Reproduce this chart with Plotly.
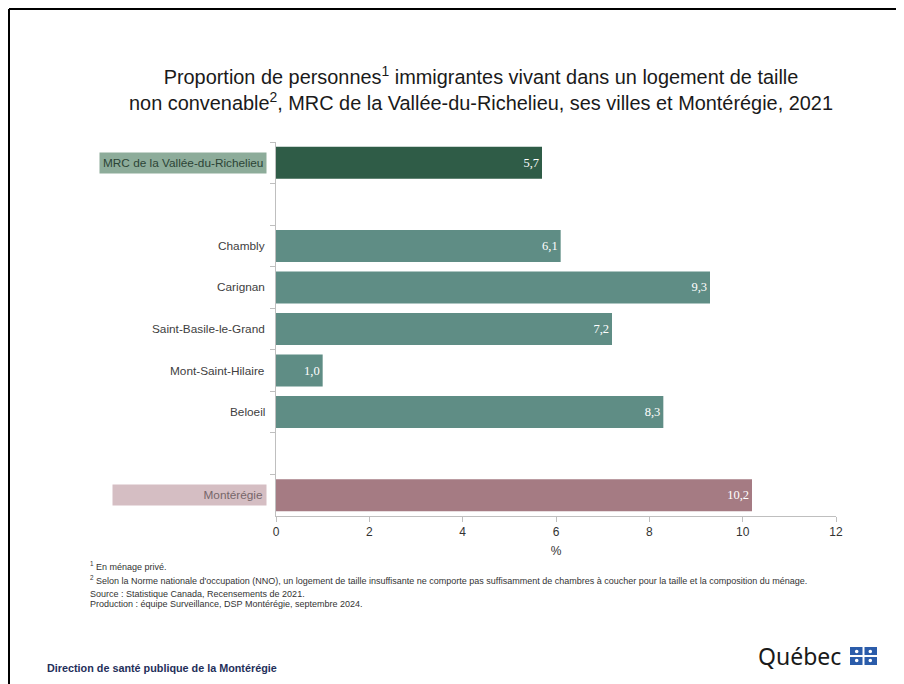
import plotly.graph_objects as go

categories = ["MRC de la Vallée-du-Richelieu", " ", "Chambly", "Carignan",
              "Saint-Basile-le-Grand", "Mont-Saint-Hilaire", "Beloeil", "  ", "Montérégie"]
values = [5.7, None, 6.1, 9.3, 7.2, 1.0, 8.3, None, 10.2]
groups = ["mrc", "blank", "ville", "ville", "ville", "ville", "ville", "blank", "region"]
x_ticks = [0, 2, 4, 6, 8, 10, 12]

bar_colors = {"mrc": "#2f5c47", "ville": "#5f8d85", "region": "#a57b83", "blank": "rgba(0,0,0,0)"}

W, H = 904, 684      # window
OFF = 8              # page body margin
FW, FH = W - OFF, H - OFF
L, R, T, B = 276, 836, 142, 516   # plot area in window pixels


def px(xp):
    return (xp - L) / (R - L)


def py(yp):
    return (B - yp) / (B - T)


texts = [("" if v is None else f"{v:.1f}".replace(".", ",")) for v in values]

fig = go.Figure()
fig.add_trace(go.Bar(
    y=categories, x=values, orientation="h",
    marker=dict(color=[bar_colors[g] for g in groups], line=dict(width=0)),
    width=0.77,
    text=texts, textposition="inside", insidetextanchor="end",
    textfont=dict(family="Liberation Serif", size=12.5, color="white"),
    cliponaxis=False, hoverinfo="skip",
))

lab_font = "Liberation Sans"
annotations = []
for cat, g in zip(categories, groups):
    if g == "blank":
        continue
    a = dict(x=px(267), y=cat, xref="paper", yref="y", xanchor="right", yanchor="middle",
             text=cat, showarrow=False,
             font=dict(family=lab_font, size=11.8, color="#404040"))
    if g == "mrc":
        a.update(bgcolor="#8dac9a", borderpad=3, font=dict(family=lab_font, size=11.8, color="#2c4436"))
    if g == "region":
        a.update(bgcolor="#d5bec3", borderpad=3, width=147, align="right",
                 font=dict(family=lab_font, size=11.8, color="#76666a"))
    annotations.append(a)

foot_font = dict(family="Liberation Sans", size=9, color="#333333")
footnotes = [
    (566, "<sup>1</sup> En ménage privé."),
    (580, "<sup>2</sup> Selon la Norme nationale d'occupation (NNO), un logement de taille insuffisante ne comporte pas suffisamment de chambres à coucher pour la taille et la composition du ménage."),
    (594, "Source : Statistique Canada, Recensements de 2021."),
    (604, "Production : équipe Surveillance, DSP Montérégie, septembre 2024."),
]
for yy, t in footnotes:
    annotations.append(dict(x=px(88), y=py(yy), xref="paper", yref="paper", xanchor="left",
                            yanchor="middle", text=t, showarrow=False, font=foot_font))

annotations.append(dict(x=px(45), y=py(668), xref="paper", yref="paper", xanchor="left",
                        yanchor="middle", text="<b>Direction de santé publique de la Montérégie</b>",
                        showarrow=False, font=dict(family="Liberation Sans", size=10.8, color="#1f2f5a")))
annotations.append(dict(x=px(843), y=py(656), xref="paper", yref="paper", xanchor="right",
                        yanchor="middle", text="Québec", showarrow=False,
                        font=dict(family="Noto Sans", size=23, color="#1a1a1a")))

shapes = []
# frame
shapes.append(dict(type="line", xref="paper", yref="paper", x0=px(9), x1=px(910), y0=py(9), y1=py(9),
                   line=dict(color="black", width=2)))
shapes.append(dict(type="line", xref="paper", yref="paper", x0=px(9), x1=px(9), y0=py(9), y1=py(690),
                   line=dict(color="black", width=2)))
# Quebec flag
shapes.append(dict(type="rect", xref="paper", yref="paper", x0=px(850), x1=px(877), y0=py(665), y1=py(647),
                   fillcolor="#2b5caa", line=dict(width=0)))
shapes.append(dict(type="line", xref="paper", yref="paper", x0=px(863.5), x1=px(863.5), y0=py(665), y1=py(647),
                   line=dict(color="white", width=2)))
shapes.append(dict(type="line", xref="paper", yref="paper", x0=px(850), x1=px(877), y0=py(656), y1=py(656),
                   line=dict(color="white", width=2)))
for cx in (856.7, 870.3):
    for cy in (651.5, 660.5):
        shapes.append(dict(type="circle", xref="paper", yref="paper", x0=px(cx - 1.8), x1=px(cx + 1.8),
                           y0=py(cy + 1.8), y1=py(cy - 1.8), fillcolor="white", line=dict(width=0)))

fig.update_layout(
    width=FW, height=FH,
    margin=dict(l=L - OFF, r=W - R, t=T - OFF, b=H - B, pad=0),
    paper_bgcolor="white", plot_bgcolor="white",
    showlegend=False,
    title=dict(
        text="Proportion de personnes<sup>1</sup> immigrantes vivant dans un logement de taille<br>"
             "non convenable<sup>2</sup>, MRC de la Vallée-du-Richelieu, ses villes et Montérégie, 2021",
        x=(481 - OFF) / FW, xref="container", xanchor="center",
        y=1 - (84 - OFF) / FH, yref="container", yanchor="middle",
        font=dict(family="Liberation Sans", size=19.9, color="#1a1a1a"),
    ),
    xaxis=dict(range=[0, 12], tickvals=x_ticks, ticks="outside", ticklen=5, tickcolor="#bfbfbf",
               showline=True, linecolor="#bfbfbf", linewidth=1, showgrid=False, zeroline=False,
               tickfont=dict(family="Liberation Sans", size=12, color="#333333"),
               title=dict(text="%", font=dict(family="Liberation Sans", size=12, color="#333333"), standoff=8)),
    yaxis=dict(categoryorder="array", categoryarray=categories, autorange="reversed",
               showticklabels=False, ticks="outside", ticklen=5, tickcolor="#bfbfbf", tickson="boundaries",
               showline=True, linecolor="#bfbfbf", linewidth=1, showgrid=False, zeroline=False),
    annotations=annotations, shapes=shapes,
)

fig.write_html("out.html")
